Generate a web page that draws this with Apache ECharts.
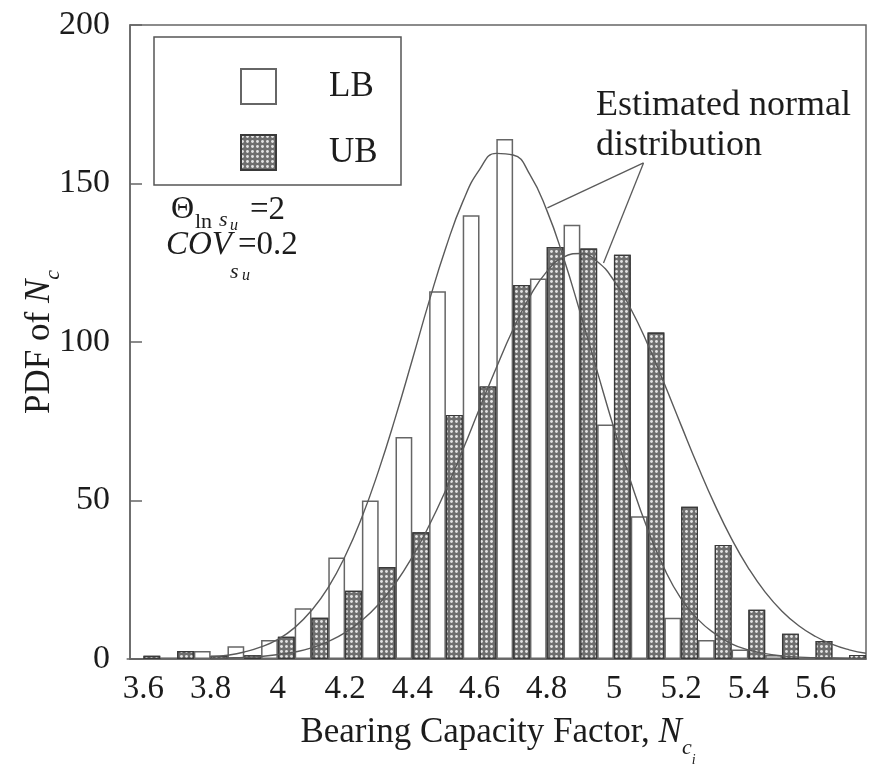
<!DOCTYPE html>
<html><head><meta charset="utf-8">
<script src="https://cdn.jsdelivr.net/npm/echarts@6/dist/echarts.min.js"></script>
<style>html,body{margin:0;padding:0;background:#fff}#c{width:869px;height:765px}</style>
</head><body><div id="c"></div>
<script>
// ---- data ----
const binCenters = [3.6,3.7,3.8,3.9,4.0,4.1,4.2,4.3,4.4,4.5,4.6,4.7,4.8,4.9,5.0,5.1,5.2,5.3,5.4,5.5,5.6,5.7];
const lbValues   = [0,0.5,2.5,4,6,16,32,50,70,116,140,164,120,137,74,45,13,6,3,1.3,0.5,0.5];
const ubValues   = [1,2.5,1,1.2,7,13,21.5,29,40,77,86,118,130,129.5,127.5,103,48,36,15.5,8,5.7,1.3];
const curveX  = [3.80,3.85,3.90,3.95,4.00,4.05,4.10,4.15,4.20,4.25,4.30,4.35,4.40,4.45,4.50,4.55,4.60,4.65,4.70,4.75,4.80,4.85,4.90,4.95,5.00,5.05,5.10,5.15,5.20,5.25,5.30,5.35,5.40,5.45,5.50,5.55,5.60,5.65,5.70,5.75];
const lbCurve = [0.7,1.2,2.2,3.8,6.2,9.9,15.3,22.6,32.4,44.7,59.5,76.3,94.4,112.8,129.8,144.2,154.4,159.5,159,152.8,141.6,126.6,109.1,90.8,72.8,56,41,28.5,19,12.5,8,4.8,2.9,1.7,1.0,0.6,0.4,0.3,0.2,0.1];
const ubCurve = [0.1,0.3,0.5,0.8,1.4,2.2,3.5,5.5,8.3,12.2,17.3,23.9,32.2,42.1,53.4,65.9,79.0,91.9,104.0,114.4,122.2,126.8,127.9,125.4,119.4,110.5,99.4,86.8,73.7,60.8,48.7,37.9,28.7,21.1,15.1,10.5,7.1,4.6,2.9,1.8];
const xTickLabels = [3.6,3.8,4,4.2,4.4,4.6,4.8,5,5.2,5.4,5.6];
const seriesNames = ['LB','UB'];
const leaderStart = [5.088,156.5];
const leaderEnds  = [[4.802,142.3],[4.969,124.9]];
const binWidth = 0.1;

// ---- layout ----
const W = 869, H = 765;
const gridL = 130, gridR = 3, gridT = 25, gridB = 106;
const xMin = 3.56, xMax = 5.75;
const pxPerUnit = (W - gridL - gridR) / (xMax - xMin);
const barW = pxPerUnit * binWidth / 2;
const FONT = '"Liberation Serif","Times New Roman",serif';
const TXT = '#1c1c1c';
const LINE = '#666';

const chart = echarts.init(document.getElementById('c'), null, {renderer:'canvas'});
const pair = (xs, ys) => xs.map((x,i)=>[x, ys[i]]);

chart.setOption({
  animation:false,
  backgroundColor:'#fff',
  grid:{left:gridL,right:gridR,top:gridT,bottom:gridB,containLabel:false,outerBoundsMode:'none',
        show:true,borderColor:LINE,borderWidth:1.5,backgroundColor:'transparent'},
  xAxis:{
    type:'value', min:xMin, max:xMax,
    axisLine:{show:true,lineStyle:{color:LINE,width:1.5}},
    axisTick:{show:false},
    splitLine:{show:false},
    axisLabel:{customValues:xTickLabels, fontFamily:FONT, fontSize:33, color:TXT, margin:14, formatter:v=>String(v)},
    name:'{a|Bearing Capacity Factor, }{n|N}{c|c}{i|i}',
    nameLocation:'middle', nameGap:56,
    nameTextStyle:{fontFamily:FONT, color:TXT, rich:{
      a:{fontFamily:FONT,fontSize:35,color:TXT,verticalAlign:'top'},
      n:{fontFamily:FONT,fontSize:35,fontStyle:'italic',color:TXT,verticalAlign:'top'},
      c:{fontFamily:FONT,fontSize:22,fontStyle:'italic',color:TXT,verticalAlign:'top',padding:[22,0,0,0]},
      i:{fontFamily:FONT,fontSize:14,fontStyle:'italic',color:TXT,verticalAlign:'top',padding:[38,0,0,0]}
    }}
  },
  yAxis:{
    type:'value', min:0, max:200, interval:50,
    axisLine:{show:true,lineStyle:{color:LINE,width:1.5}},
    axisTick:{show:true,inside:true,length:12,lineStyle:{color:LINE,width:1.5}},
    splitLine:{show:false},
    axisLabel:{fontFamily:FONT, fontSize:34, color:TXT, margin:20},
    name:'{a|PDF of }{n|N}{c|c}',
    nameLocation:'middle', nameGap:66, nameRotate:90, nameMoveOverlap:false,
    nameTextStyle:{fontFamily:FONT, color:TXT, rich:{
      a:{fontFamily:FONT,fontSize:35,color:TXT,verticalAlign:'top'},
      n:{fontFamily:FONT,fontSize:35,fontStyle:'italic',color:TXT,verticalAlign:'top'},
      c:{fontFamily:FONT,fontSize:22,fontStyle:'italic',color:TXT,verticalAlign:'top',padding:[20,0,0,0]}
    }}
  },
  legend:{
    data:seriesNames, orient:'vertical', left:235, top:63,
    itemWidth:35, itemHeight:35, itemGap:29, icon:'rect',
    textStyle:{fontFamily:FONT, fontSize:35, color:TXT, padding:[0,0,0,48]}
  },
  series:[
    {name:seriesNames[0], type:'bar', data:pair(binCenters, lbValues), barWidth:barW, barGap:'0%',
     itemStyle:{color:'#ffffff', borderColor:'#666', borderWidth:1.5}, z:2},
    {name:seriesNames[1], type:'bar', data:pair(binCenters, ubValues), barWidth:barW, barGap:'0%',
     itemStyle:{color:'#6e6e6e', borderColor:'#3a3a3a', borderWidth:1.2,
       decal:{symbol:'circle', symbolSize:0.95, color:'#e4e4e4', dashArrayX:[2.2,1.3], dashArrayY:[2.2,1.3], rotation:0}}, z:2},
    {name:'lbFit', type:'line', data:pair(curveX, lbCurve), smooth:true, symbol:'none',
     lineStyle:{color:'#5a5a5a', width:1.4}, z:5, clip:true,
     markLine:{silent:true, symbol:'none', label:{show:false}, lineStyle:{color:'#5a5a5a',width:1.3,type:'solid'},
       data:leaderEnds.map(e=>[{coord:leaderStart},{coord:e}])}},
    {name:'ubFit', type:'line', data:pair(curveX, ubCurve), smooth:true, symbol:'none',
     lineStyle:{color:'#5a5a5a', width:1.4}, z:5, clip:true}
  ],
  graphic:[
    {type:'rect', shape:{x:154,y:37,width:247,height:148}, style:{fill:'none',stroke:'#555',lineWidth:1.5}, z:10},
    {type:'text', x:596, y:86, style:{text:'Estimated normal\ndistribution', font:'36px '+FONT, fill:TXT, lineHeight:40, textVerticalAlign:'top'}, z:10},
    {type:'text', x:171, y:194, style:{text:'\u0398', font:'32px '+FONT, fill:TXT, textVerticalAlign:'top'}, z:10},
    {type:'text', x:195, y:211, style:{text:'ln', font:'22px '+FONT, fill:TXT, textVerticalAlign:'top'}, z:10},
    {type:'text', x:219, y:209, style:{text:'s', font:'italic 22px '+FONT, fill:TXT, textVerticalAlign:'top'}, z:10},
    {type:'text', x:230, y:218, style:{text:'u', font:'italic 16px '+FONT, fill:TXT, textVerticalAlign:'top'}, z:10},
    {type:'text', x:250, y:194, style:{text:'=2', font:'33px '+FONT, fill:TXT, textVerticalAlign:'top'}, z:10},
    {type:'text', x:166, y:229, style:{text:'COV', font:'italic 33px '+FONT, fill:TXT, textVerticalAlign:'top'}, z:10},
    {type:'text', x:238, y:229, style:{text:'=0.2', font:'33px '+FONT, fill:TXT, textVerticalAlign:'top'}, z:10},
    {type:'text', x:230, y:261, style:{text:'s', font:'italic 22px '+FONT, fill:TXT, textVerticalAlign:'top'}, z:10},
    {type:'text', x:242, y:268, style:{text:'u', font:'italic 16px '+FONT, fill:TXT, textVerticalAlign:'top'}, z:10}
  ]
});
</script></body></html>
